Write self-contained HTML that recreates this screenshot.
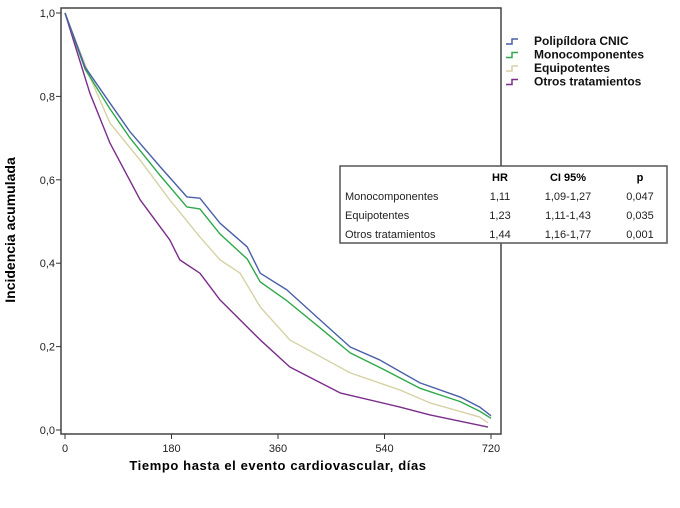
<!DOCTYPE html>
<html><head><meta charset="utf-8"><style>
body{margin:0;background:#fff;font-family:"Liberation Sans",sans-serif}
</style></head><body>
<svg id="c" width="680" height="503" xmlns="http://www.w3.org/2000/svg">
<rect x="0" y="0" width="680" height="503" fill="#fff"/>
</svg>
<script>
const xTicks=[0,180,360,540,720];
const yTicks=[0,0.2,0.4,0.6,0.8,1.0];
const seriesNames=["Polipíldora CNIC","Monocomponentes","Equipotentes","Otros tratamientos"];
const seriesColors=["#4a5fa8","#2ea84a","#d6d2a6","#7b2d8b"];
const daysBlue=[0,34,76,110,161,206,228,262,308,330,375,431,482,532,600,668,701,720];
const valsBlue=[1,0.87,0.784,0.715,0.631,0.559,0.556,0.496,0.439,0.376,0.336,0.264,0.199,0.168,0.113,0.079,0.055,0.034];
const daysGreen=[0,34,76,110,161,206,228,262,308,330,375,431,482,532,600,668,701,720];
const valsGreen=[1,0.865,0.77,0.70,0.61,0.535,0.53,0.47,0.41,0.355,0.31,0.245,0.185,0.15,0.10,0.068,0.045,0.028];
const daysEqui=[0,42,76,127,177,228,262,296,330,380,482,566,617,701,715];
const valsEqui=[1,0.847,0.736,0.647,0.552,0.463,0.408,0.376,0.295,0.216,0.137,0.096,0.065,0.031,0.017];
const daysOtros=[0,42,76,127,177,194,228,262,330,380,465,566,617,715];
const valsOtros=[1,0.808,0.688,0.552,0.456,0.408,0.376,0.312,0.216,0.151,0.089,0.055,0.036,0.007];
const tableRows=[["Monocomponentes","1,11","1,09-1,27","0,047"],["Equipotentes","1,23","1,11-1,43","0,035"],["Otros tratamientos","1,44","1,16-1,77","0,001"]];

const NS="http://www.w3.org/2000/svg";
const svg=document.getElementById('c');
function X(d){return 65+d/180*106.5;}
function Y(v){return 430-v*417;}
function mk(t,a,txt){const e=document.createElementNS(NS,t);for(const k in a)e.setAttribute(k,a[k]);if(txt!==undefined)e.textContent=txt;svg.appendChild(e);return e;}
let f=mk('rect',{x:61,y:8,width:440,height:426,fill:'none',stroke:'#444','stroke-width':1.5});


xTicks.forEach(t=>{
  let l=mk('line',{x1:X(t),x2:X(t),y1:434,y2:439,stroke:'#333'});
  
  
  let s=mk('text',{x:X(t),y:452,'font-size':11,'text-anchor':'middle',fill:'#222'},String(t));
  
  
});
yTicks.forEach(t=>{
  let l=mk('line',{x1:56,x2:61,y1:Y(t),y2:Y(t),stroke:'#333'});
  
  
  let s=mk('text',{x:55,y:Y(t)+4,'font-size':11,'text-anchor':'end',fill:'#222'},t.toFixed(1).replace('.',','));
  
  
});
let xt=mk('text',{x:278,y:470,'font-size':13,'font-weight':'bold','text-anchor':'middle','letter-spacing':'0.6'},'Tiempo hasta el evento cardiovascular, días');


let yt=mk('text',{x:0,y:0,'font-size':14,'font-weight':'bold','text-anchor':'middle',transform:'translate(15,230) rotate(-90)'},'Incidencia acumulada');


const all=[[daysBlue,valsBlue],[daysGreen,valsGreen],[daysEqui,valsEqui],[daysOtros,valsOtros]];
const order=[2,3,1,0];
order.forEach(i=>{
  const [d,v]=all[i];
  const p=mk('polyline',{points:d.map((x,j)=>X(x)+','+Y(v[j])).join(' '),fill:'none',stroke:seriesColors[i],'stroke-width':1.4,'stroke-linejoin':'round'});
  
  
});
seriesNames.forEach((n,i)=>{
  const y=41+i*13.5;
  const ic=mk('path',{d:`M506 ${y+3} h6 v-5 h6`,fill:'none',stroke:seriesColors[i],'stroke-width':1.5});
  
  
  const t=mk('text',{x:534,y:y+4,'font-size':12,'font-weight':'bold',fill:'#111'},n);
  
  
});
let tb=mk('rect',{x:340,y:166,width:327,height:77,fill:'#fff',stroke:'#555','stroke-width':1.5});


const cols=[[345,'start'],[500,'middle'],[568,'middle'],[640,'middle']];
["HR","CI 95%","p"].forEach((h,i)=>{
  const t=mk('text',{x:cols[i+1][0],y:181,'font-size':11,'font-weight':'bold','text-anchor':'middle'},h);
  
  
});
tableRows.forEach((r,j)=>{
  r.forEach((c,i)=>{
    const t=mk('text',{x:cols[i][0],y:200+j*19,'font-size':11,'text-anchor':cols[i][1],fill:'#222'},c);
    
    
  });
});
</script>
</body></html>
